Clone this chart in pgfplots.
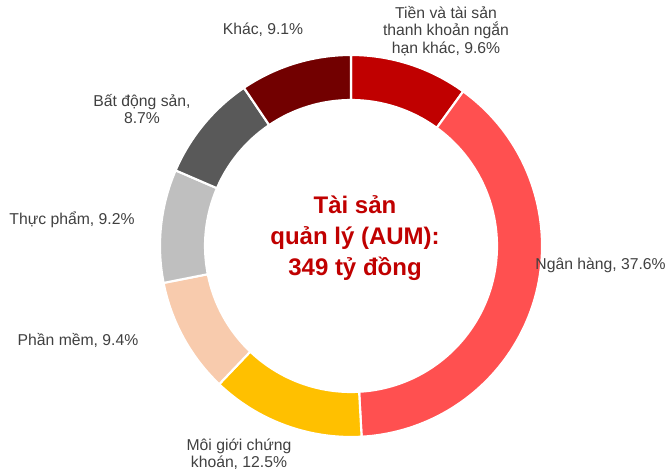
\documentclass[border=0pt]{standalone}
\usepackage{pgfplots}
\pgfplotsset{compat=1.18}
\usepackage{pgfplotstable}
\usepackage{fontspec}
\setmainfont{Liberation Sans}
\definecolor{s0}{HTML}{C00000}
\definecolor{s1}{HTML}{FF5050}
\definecolor{s2}{HTML}{FFC000}
\definecolor{s3}{HTML}{F8CBAD}
\definecolor{s4}{HTML}{BFBFBF}
\definecolor{s5}{HTML}{595959}
\definecolor{s6}{HTML}{720000}
\definecolor{lbl}{HTML}{404040}
\definecolor{ttl}{HTML}{C00000}

\pgfplotstableread{
value
9.6
37.6
12.5
9.4
9.2
8.7
9.1
}\data

\begin{document}
\begin{tikzpicture}
\begin{axis}[x=0.75pt,y=0.75pt,xmin=0,xmax=668,ymin=0,ymax=474,
  hide axis,clip=false,scale only axis]
\path (axis cs:0,0) rectangle (axis cs:668,474);
% total
\pgfmathsetmacro\total{0}
\pgfplotsforeachungrouped \i in {0,...,6}{%
  \pgfplotstablegetelem{\i}{value}\of\data
  \pgfmathsetmacro\total{\total+\pgfplotsretval}%
}
\pgfmathsetmacro\cum{0}
\def\cx{351}\def\cy{228}\def\Ro{191}\def\Ri{146}
\pgfplotsforeachungrouped \i in {0,...,6}{%
  \pgfplotstablegetelem{\i}{value}\of\data
  \pgfmathsetmacro\aone{90-\cum/\total*360}%
  \pgfmathsetmacro\cum{\cum+\pgfplotsretval}%
  \pgfmathsetmacro\atwo{90-\cum/\total*360}%
  \pgfmathsetmacro\xa{\cx+\Ro*cos(\aone)}%
  \pgfmathsetmacro\ya{\cy+\Ro*sin(\aone)}%
  \pgfmathsetmacro\xb{\cx+\Ri*cos(\atwo)}%
  \pgfmathsetmacro\yb{\cy+\Ri*sin(\atwo)}%
  \edef\cmd{\noexpand\fill[s\i, draw=white, line width=1.6pt, line join=miter]
    (axis cs:\xa,\ya) arc[start angle=\aone, end angle=\atwo, radius=143.25pt]
    -- (axis cs:\xb,\yb) arc[start angle=\atwo, end angle=\aone, radius=109.5pt] -- cycle;}%
  \cmd
}
\begin{scope}[every node/.style={text=lbl, align=center, font=\fontsize{11.8}{13.1}\selectfont, inner sep=0pt}]
\node at (axis cs:446,443) {Tiền và tài sản\\thanh khoản ngắn\\hạn khác, 9.6\%};
\node[anchor=east] at (axis cs:666,209) {Ngân hàng, 37.6\%};
\node at (axis cs:239,20) {Môi giới chứng\\khoán, 12.5\%};
\node at (axis cs:78,134) {Phần mềm, 9.4\%};
\node at (axis cs:72,254) {Thực phẩm, 9.2\%};
\node at (axis cs:142,365) {Bất động sản,\\8.7\%};
\node at (axis cs:263,444) {Khác, 9.1\%};
\end{scope}
\node[text=ttl, align=center, font=\fontsize{18}{23.3}\selectfont\bfseries] at (axis cs:355,236) {Tài sản\\quản lý (AUM):\\349 tỷ đồng};
\end{axis}
\end{tikzpicture}
\end{document}
